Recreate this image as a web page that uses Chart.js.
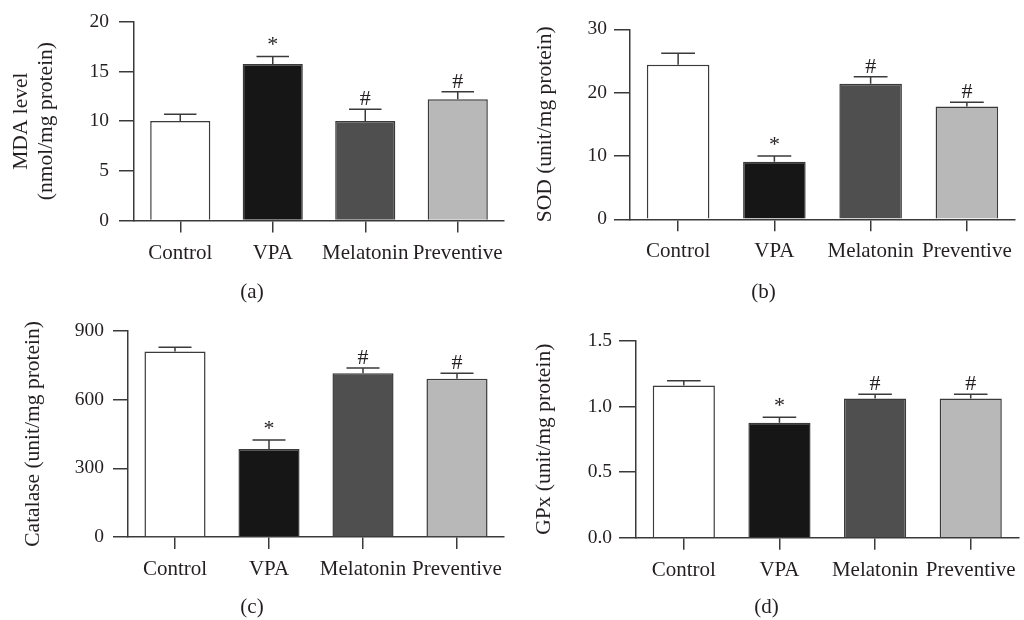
<!DOCTYPE html>
<html>
<head>
<meta charset="utf-8">
<script src="https://cdn.jsdelivr.net/npm/chart.js@4.4.1/dist/chart.umd.min.js"></script>
<style>
  html, body { margin: 0; padding: 0; background: #fff; }
  #wrap { position: relative; width: 1024px; height: 620px; }
  .panel { position: absolute; width: 512px; height: 310px; }
</style>
</head>
<body>
<div id="wrap">
  <div class="panel" style="left:0;top:0"><canvas id="chartA" width="512" height="310"></canvas></div>
  <div class="panel" style="left:512px;top:0"><canvas id="chartB" width="512" height="310"></canvas></div>
  <div class="panel" style="left:0;top:310px"><canvas id="chartC" width="512" height="310"></canvas></div>
  <div class="panel" style="left:512px;top:310px"><canvas id="chartD" width="512" height="310"></canvas></div>
</div>
<script>
// Groups and bar fills
const groups = ['Control', 'VPA', 'Melatonin', 'Preventive'];
const barColors = ['#ffffff', '#161616', '#4f4f4f', '#b8b8b8'];
const marks = ['', '*', '#', '#'];

// (a) MDA
const mdaMean = [10.0, 15.75, 10.0, 12.2];
const mdaSem = [0.7, 0.75, 1.2, 0.75];
// (b) SOD
const sodMean = [24.4, 9.1, 21.4, 17.8];
const sodSem = [1.8, 0.9, 1.1, 0.7];
// (c) Catalase
const catMean = [809, 384, 715, 691];
const catSem = [19, 39, 22, 23];
// (d) GPx
const gpxMean = [1.16, 0.875, 1.06, 1.06];
const gpxSem = [0.035, 0.043, 0.033, 0.032];

const ink = '#231f20';
const lineCol = '#3a3a3a';
const serif = 'Liberation Serif';

Chart.defaults.font.family = serif;
Chart.defaults.color = ink;

// draws the SEM whiskers and the */# marks above them
const errorBars = {
  id: 'errorBars',
  afterDatasetsDraw(chart, args, opts) {
    const ctx = chart.ctx;
    const y = chart.scales.y;
    const meta = chart.getDatasetMeta(0);
    ctx.save();
    ctx.strokeStyle = lineCol;
    ctx.lineWidth = 1.5;
    meta.data.forEach((bar, i) => {
      const top = y.getPixelForValue(opts.means[i] + opts.errors[i]);
      const half = bar.width * 0.27;
      ctx.beginPath();
      ctx.moveTo(bar.x, bar.y);
      ctx.lineTo(bar.x, top);
      ctx.moveTo(bar.x - half, top);
      ctx.lineTo(bar.x + half, top);
      ctx.stroke();
      const m = opts.marks[i];
      if (m) {
        ctx.fillStyle = ink;
        ctx.textAlign = 'center';
        ctx.textBaseline = 'alphabetic';
        ctx.font = '22px ' + serif;
        ctx.fillText(m, bar.x, top - (m === '*' ? 5 : 4));
      }
    });
    ctx.restore();
  }
};

function makePanel(id, p) {
  const titleH = 24 + p.labelPad;
  new Chart(document.getElementById(id), {
    type: 'bar',
    data: {
      labels: groups,
      datasets: [{
        data: p.means,
        backgroundColor: barColors,
        borderColor: lineCol,
        borderWidth: 1.5,
        barPercentage: 0.65,
        categoryPercentage: 1
      }]
    },
    plugins: [errorBars],
    options: {
      responsive: false,
      animation: false,
      devicePixelRatio: 1,
      layout: {
        padding: { top: p.top, right: 512 - p.right, left: 0, bottom: 0 }
      },
      plugins: {
        legend: { display: false },
        tooltip: { enabled: false },
        title: {
          display: true,
          position: 'bottom',
          text: p.label,
          color: ink,
          font: { size: 21, weight: 'normal', lineHeight: 1.2 },
          padding: { top: 0, bottom: p.labelPad }
        },
        errorBars: { means: p.means, errors: p.errors, marks: marks }
      },
      scales: {
        x: {
          offset: true,
          ticks: { padding: 8, maxRotation: 0, autoSkip: false, color: ink, font: { size: 21 } },
          grid: { offset: false, drawOnChartArea: false, tickLength: 12, color: lineCol, lineWidth: 1.5 },
          border: { display: true, color: lineCol, width: 1.5 },
          afterFit: s => { s.height = 310 - p.bottom - titleH; }
        },
        y: {
          min: 0,
          max: p.max,
          ticks: {
            stepSize: p.step,
            padding: p.tickPad,
            color: ink,
            font: { size: 19.5 },
            callback: v => p.decimals ? v.toFixed(p.decimals) : v
          },
          grid: { drawOnChartArea: false, tickLength: p.tickLen, color: lineCol, lineWidth: 1.5 },
          border: { display: true, color: lineCol, width: 1.5 },
          title: {
            display: true,
            text: p.yTitle,
            color: ink,
            font: { size: 21.5, lineHeight: 1.2 },
            padding: { top: p.titlePad, bottom: 0 }
          },
          afterFit: s => { s.width = p.left; }
        }
      }
    }
  });
}

makePanel('chartA', {
  means: mdaMean, errors: mdaSem, max: 20, step: 5, decimals: 0,
  yTitle: ['MDA level', '(nmol/mg protein)'], label: '(a)',
  left: 134, right: 504, top: 17.3, bottom: 221.7,
  tickLen: 15, tickPad: 10, titlePad: 8, labelPad: 5
});
makePanel('chartB', {
  means: sodMean, errors: sodSem, max: 30, step: 10, decimals: 0,
  yTitle: 'SOD (unit/mg protein)', label: '(b)',
  left: 118, right: 503, top: 29.3, bottom: 220.5,
  tickLen: 16, tickPad: 7, titlePad: 20, labelPad: 5
});
makePanel('chartC', {
  means: catMean, errors: catSem, max: 900, step: 300, decimals: 0,
  yTitle: 'Catalase (unit/mg protein)', label: '(c)',
  left: 128, right: 504, top: 20, bottom: 228.3,
  tickLen: 15, tickPad: 9, titlePad: 20, labelPad: 0
});
makePanel('chartD', {
  means: gpxMean, errors: gpxSem, max: 1.5, step: 0.5, decimals: 1,
  yTitle: 'GPx (unit/mg protein)', label: '(d)',
  left: 124, right: 509, top: 30.7, bottom: 229,
  tickLen: 17, tickPad: 7, titlePad: 19, labelPad: 0
});
</script>
</body>
</html>
